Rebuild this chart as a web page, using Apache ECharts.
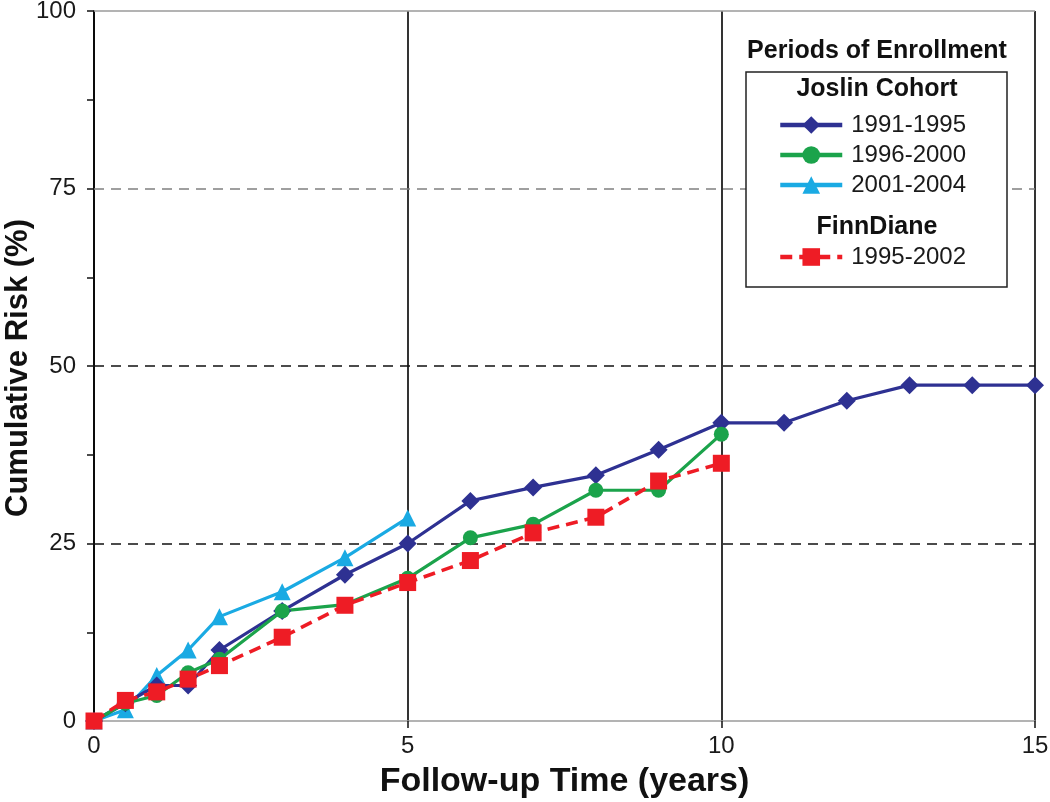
<!DOCTYPE html>
<html>
<head>
<meta charset="utf-8">
<script src="https://cdn.jsdelivr.net/npm/echarts@6/dist/echarts.min.js"></script>
<style>
html,body{margin:0;padding:0;background:#fff;}
#chart{width:1050px;height:802px;}
</style>
</head>
<body>
<div id="chart"></div>
<script>
// ---- data ----
const seriesNames = ['1991-1995', '1996-2000', '2001-2004', '1995-2002'];
const years_1991_1995 = [0, 0.5, 1, 1.5, 2, 3, 4, 5, 6, 7, 8, 9, 10, 11, 12, 13, 14, 15];
const risk_1991_1995  = [0, 2.5, 5.0, 5.0, 10.0, 15.5, 20.6, 25.0, 31.0, 32.9, 34.6, 38.2, 42.0, 42.0, 45.1, 47.3, 47.3, 47.3];
const years_1996_2000 = [0, 0.5, 1, 1.5, 2, 3, 4, 5, 6, 7, 8, 9, 10];
const risk_1996_2000  = [0, 2.5, 3.6, 6.8, 8.7, 15.5, 16.4, 20.1, 25.8, 27.7, 32.5, 32.5, 40.4];
const years_2001_2004 = [0, 0.5, 1, 1.5, 2, 3, 4, 5];
const risk_2001_2004  = [0, 1.6, 6.4, 10.0, 14.7, 18.2, 23.0, 28.6];
const years_finndiane = [0, 0.5, 1, 1.5, 2, 3, 4, 5, 6, 7, 8, 9, 10];
const risk_finndiane  = [0, 2.9, 4.1, 5.9, 7.8, 11.8, 16.3, 19.5, 22.6, 26.5, 28.7, 33.8, 36.3];
const yTickLabels = [0, 25, 50, 75, 100];
const xTickLabels = [0, 5, 10, 15];
const dashedGrid = [25, 50, 75];
const yTitle = 'Cumulative Risk (%)';
const xTitle = 'Follow-up Time (years)';

const zip = (xs, ys) => xs.map((x, i) => [x, ys[i]]);
const FONT = '"Liberation Sans", Arial, sans-serif';

const chart = echarts.init(document.getElementById('chart'), null, {renderer: 'canvas'});

const legendText = {fontSize: 24, color: '#1a1a1a', fontFamily: FONT, padding: [0, 0, 0, 4]};

const option = {
  backgroundColor: '#ffffff',
  animation: false,
  grid: {left: 94, right: 15, top: 11, bottom: 81, containLabel: false, outerBoundsMode: 'none'},
  xAxis: {
    type: 'value', min: 0, max: 15, interval: 5,
    axisLine: {show: true, lineStyle: {color: '#9a9a9a', width: 1.5}},
    axisTick: {show: true, inside: false, length: 7, lineStyle: {color: '#111', width: 1.5}},
    axisLabel: {
      margin: 13, fontSize: 24, color: '#1a1a1a', fontFamily: FONT,
      formatter: v => xTickLabels.includes(v) ? String(v) : ''
    },
    splitLine: {show: true, lineStyle: {color: '#000', width: 1.6, type: 'solid'}},
    name: xTitle, nameLocation: 'middle', nameGap: 44,
    nameTextStyle: {fontSize: 34, fontWeight: 'bold', color: '#111', fontFamily: FONT}
  },
  yAxis: {
    type: 'value', min: 0, max: 100, interval: 12.5,
    axisLine: {show: true, lineStyle: {color: '#000', width: 1.6}},
    axisTick: {show: true, inside: false, length: 7, lineStyle: {color: '#111', width: 1.5}},
    axisLabel: {
      margin: 18, fontSize: 24, color: '#1a1a1a', fontFamily: FONT,
      formatter: v => yTickLabels.includes(v) ? String(v) : ''
    },
    splitLine: {show: false}
  },
  legend: [
    {
      data: seriesNames.slice(0, 3), z: 30,
      orient: 'vertical', left: 778, top: 113, itemGap: 6, padding: 0,
      itemWidth: 62, itemHeight: 22,
      lineStyle: {width: 4.5},
      textStyle: legendText, selectedMode: false
    },
    {
      data: [seriesNames[3]], z: 30,
      orient: 'vertical', left: 778, top: 245, padding: 0,
      itemWidth: 62, itemHeight: 22,
      lineStyle: {width: 4.5},
      textStyle: legendText, selectedMode: false
    }
  ],
  graphic: [
    {type: 'text', z: 30, x: 18, y: 368, rotation: Math.PI / 2,
     style: {text: yTitle, x: 0, y: 0, align: 'center', verticalAlign: 'middle',
      font: 'bold 31px ' + FONT, fill: '#111'}},
    {type: 'rect', z: 20, shape: {x: 746, y: 72, width: 261, height: 215},
     style: {fill: '#fff', stroke: '#222', lineWidth: 1.5}},
    {type: 'text', z: 30, style: {text: 'Periods of Enrollment', x: 877, y: 51, align: 'center', verticalAlign: 'middle',
      font: 'bold 25px ' + FONT, fill: '#111'}},
    {type: 'text', z: 30, style: {text: 'Joslin Cohort', x: 877, y: 89, align: 'center', verticalAlign: 'middle',
      font: 'bold 25px ' + FONT, fill: '#111'}},
    {type: 'text', z: 30, style: {text: 'FinnDiane', x: 877, y: 227, align: 'center', verticalAlign: 'middle',
      font: 'bold 25px ' + FONT, fill: '#111'}}
  ],
  series: [
    {
      name: '__grid', type: 'line', data: [], silent: true, z: 1,
      markLine: {
        silent: true, symbol: 'none', animation: false, z: 1,
        label: {show: false},
        data: dashedGrid.map(v => ({yAxis: v, lineStyle: {color: v === 75 ? '#808080' : '#111', type: [10, 7], width: 1.5}}))
          .concat([{yAxis: 100, lineStyle: {color: '#9a9a9a', type: 'solid', width: 1.5}}])
      }
    },
    {
      name: seriesNames[0], type: 'line', data: zip(years_1991_1995, risk_1991_1995),
      color: '#2E3192', symbol: 'diamond', symbolSize: 18, z: 3,
      lineStyle: {width: 3.2}, itemStyle: {color: '#2E3192'}
    },
    {
      name: seriesNames[1], type: 'line', data: zip(years_1996_2000, risk_1996_2000),
      color: '#1BA34B', symbol: 'circle', symbolSize: 15, z: 3,
      lineStyle: {width: 3.2}, itemStyle: {color: '#1BA34B'}
    },
    {
      name: seriesNames[2], type: 'line', data: zip(years_2001_2004, risk_2001_2004),
      color: '#1AAAE3', symbol: 'triangle', symbolSize: 17, z: 2,
      lineStyle: {width: 3.2}, itemStyle: {color: '#1AAAE3'}
    },
    {
      name: seriesNames[3], type: 'line', data: zip(years_finndiane, risk_finndiane),
      color: '#EE1C25', symbol: 'rect', symbolSize: 17, z: 4,
      lineStyle: {width: 3.6, type: [12, 7]}, itemStyle: {color: '#EE1C25'}
    }
  ]
};

chart.setOption(option);
</script>
</body>
</html>
